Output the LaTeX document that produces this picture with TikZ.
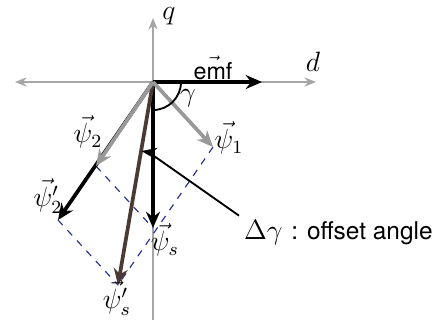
\documentclass[tikz,border=0pt]{standalone}
\usepackage{amsfonts,amssymb,amsmath}
\usepackage{fontspec}
\setsansfont{TeX Gyre Heros}
\usepackage{tikz}
\usetikzlibrary{arrows.meta}
\definecolor{fluxbrown}{RGB}{75,58,52}
\definecolor{dashblue}{RGB}{40,50,140}
\tikzset{
  axisline/.style={gray!70,line width=0.6pt,-{Stealth[length=5pt,width=4pt]}},
  bigvec/.style={line width=1.6pt,-{Stealth[length=7pt,width=6pt]}},
  helpline/.style={dashblue,dashed,line width=0.5pt},
  lbl/.style={inner sep=1pt,font=\fontsize{11.5}{13}\selectfont}
}

\begin{document}
\begin{tikzpicture}[x=0.43pt,y=0.43pt,>=Stealth]
\useasboundingbox (-153,-243) rectangle (284,82);
\coordinate (O) at (0,0);
% axes
\coordinate (qtop) at (0,64);
\coordinate (qbot) at (0,-238);
\coordinate (dleft) at (-138,0);
\coordinate (dright) at (163,0);
\draw[axisline] (qbot) -- (qtop);
\draw[axisline,{Stealth[length=5pt,width=4pt]}-{Stealth[length=5pt,width=4pt]}] (dleft) -- (dright);
\node[lbl] (qlabel) at (16,66) {$q$};
\node[lbl] (dlabel) at (160,20) {$d$};
% vector tips
\coordinate (emf) at (109,0);
\coordinate (psione) at (60,-65);
\coordinate (psitwo) at (-57,-84);
\coordinate (psitwop) at (-95,-138);
\coordinate (psis) at (0,-146);
\coordinate (psisp) at (-35,-203);
% parallelograms
\draw[helpline] (psione) -- (psisp);
\draw[helpline] (psitwo) -- (psis);
\draw[helpline] (psitwop) -- (psisp);
% vectors
\draw[bigvec,black] (O) -- (emf);
\draw[bigvec,black] (O) -- (psitwop);
\draw[bigvec,black] (O) -- (psis);
\draw[bigvec,fluxbrown] (O) -- (psisp);
\draw[bigvec,gray!80] (O) -- (psione);
\draw[bigvec,gray!80] (O) -- (psitwo);
\node[inner sep=1pt] (emflabel) at (60,14) {$\vec{\textsf{emf}}$};
\node[lbl] (psionelabel) at (76,-56) {$\vec{\psi}_1$};
\node[lbl] (psitwolabel) at (-65,-50) {$\vec{\psi}_2$};
\node[lbl] (psitwoplabel) at (-105,-114) {$\vec{\psi}'_2$};
\node[lbl] (psislabel) at (12,-158) {$\vec{\psi}_s$};
\node[lbl] (psisplabel) at (-36,-216) {$\vec{\psi}'_s$};
% angles
\draw[line width=0.8pt] (O) ++(0:28) arc[start angle=0,end angle=-90,radius=28];
\node[lbl] (gammalabel) at (35,-16) {$\gamma$};
\draw[line width=0.8pt,->] (O) ++(-90:70) arc[start angle=-90,end angle=-99.5,radius=70];
\coordinate (dg) at (-94:70);
\node[anchor=west,inner sep=2pt] (dglabel) at (86,-151) {\fontsize{11.5}{13}\selectfont$\Delta\gamma$ \fontsize{10.5}{13}\selectfont\textsf{: offset angle}};
\draw[line width=0.8pt] (dglabel.north west) -- (dg);
\end{tikzpicture}
\end{document}
